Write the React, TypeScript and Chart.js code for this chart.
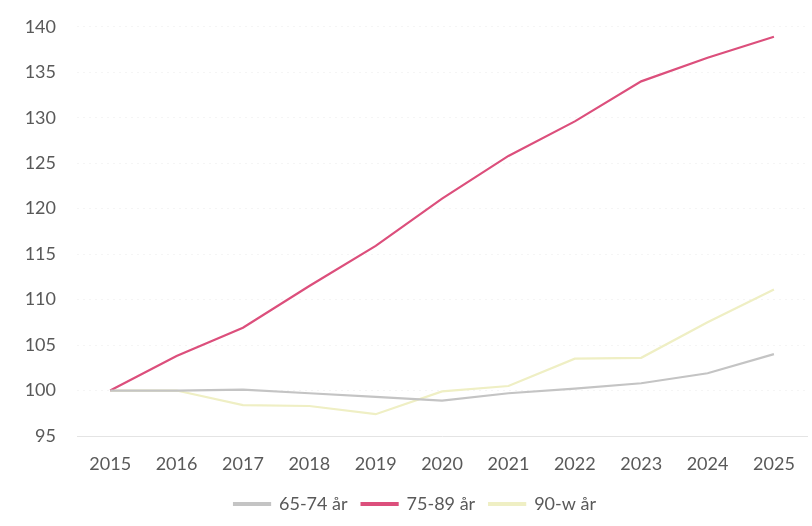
import React, { useEffect, useRef } from "react";
import { Chart, registerables } from "chart.js";

Chart.register(...registerables);

const years = ["2015", "2016", "2017", "2018", "2019", "2020", "2021", "2022", "2023", "2024", "2025"];
const age6574 = [100, 100.0, 100.1, 99.7, 99.3, 98.9, 99.7, 100.2, 100.8, 101.9, 104.0];
const age7589 = [100, 103.8, 106.9, 111.5, 115.9, 121.1, 125.8, 129.6, 134.0, 136.6, 138.9];
const age90w = [100, 100.0, 98.4, 98.3, 97.4, 99.9, 100.5, 103.5, 103.6, 107.5, 111.1];
const seriesNames = ["65-74 år", "75-89 år", "90-w år"];
const yMin = 95;
const yMax = 140;
const yStep = 5;

export default function App() {
  const ref = useRef<HTMLCanvasElement>(null);
  useEffect(() => {
    if (!ref.current) return;
    const font = { family: "Lato, 'Open Sans', sans-serif", size: 18 };
    const legendFont = { family: "Lato, 'Open Sans', sans-serif", size: 18 };
    const colors = ["#c4c4c4", "#dc4f7c", "#efefc4"];
    const data = [age6574, age7589, age90w];
    const chart = new Chart(ref.current, {
      type: "line",
      data: {
        labels: years,
        datasets: seriesNames.map((name, i) => ({
          label: name,
          data: data[i],
          borderColor: colors[i],
          backgroundColor: colors[i],
          borderWidth: 2.2,
          pointRadius: 0,
          tension: 0,
          fill: false,
        })),
      },
      options: {
        animation: false,
        responsive: false,
        layout: { padding: { left: 22, right: 4, top: -2, bottom: 3 } },
        scales: {
          x: {
            offset: true,
            afterFit: (s: any) => { s.height = 45; },
            grid: { display: false, drawTicks: false },
            border: { display: true, color: "#e4e4e4", dash: [2, 3] },
            ticks: { color: "#595959", font, padding: 17, maxRotation: 0 },
          },
          y: {
            min: yMin,
            max: yMax,
            afterFit: (s: any) => { s.width = 55; },
            grid: { color: "#f5f5f5", drawTicks: false },
            border: { display: false, dash: [2, 4] },
            ticks: { stepSize: yStep, color: "#595959", font, padding: 21 },
          },
        },
        plugins: {
          legend: {
            position: "bottom",
            labels: {
              color: "#595959",
              font: legendFont,
              boxWidth: 36,
              boxHeight: 2,
              padding: 14,
            },
          },
          tooltip: { enabled: false },
        },
      },
    });
    return () => chart.destroy();
  }, []);
  return (
    <div style={{ position: "fixed", left: 0, top: -5, width: 812, height: 531, background: "#fff" }}>
      <canvas ref={ref} width={812} height={531} />
    </div>
  );
}
